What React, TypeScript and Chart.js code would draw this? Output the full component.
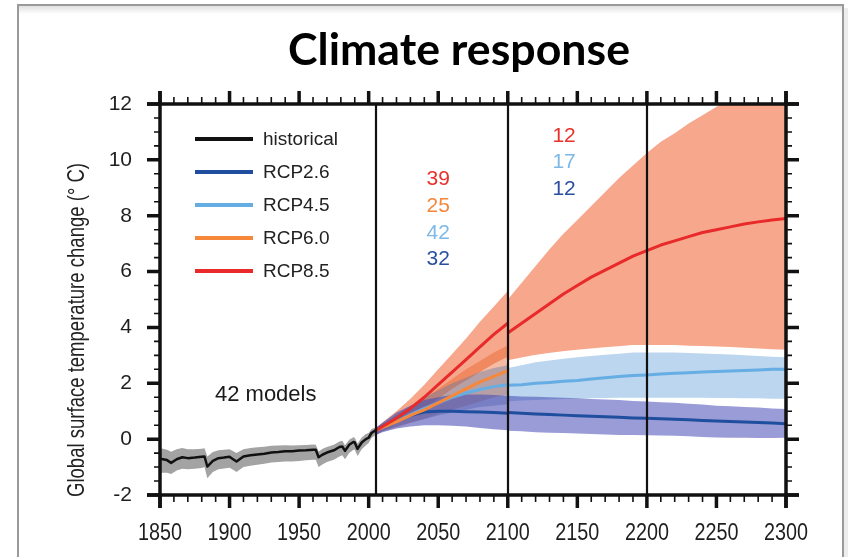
import React, { useEffect, useRef } from 'react';
import { Chart, registerables } from 'chart.js';

Chart.register(...registerables);

// ---------- data ----------
const histYears = [1850, 1855, 1858, 1862, 1866, 1870, 1875, 1880, 1882, 1884, 1888, 1892, 1896, 1900, 1902, 1905, 1910, 1915, 1920, 1925, 1930, 1935, 1940, 1945, 1950, 1955, 1960, 1962, 1964, 1967, 1970, 1975, 1979, 1981, 1983, 1986, 1989, 1990, 1992, 1995, 1998, 2000, 2002, 2005];
const histMean = [-0.70, -0.75, -0.85, -0.72, -0.65, -0.68, -0.66, -0.63, -0.62, -0.98, -0.78, -0.68, -0.66, -0.63, -0.70, -0.80, -0.62, -0.58, -0.55, -0.52, -0.48, -0.46, -0.43, -0.43, -0.41, -0.40, -0.38, -0.38, -0.65, -0.55, -0.48, -0.40, -0.28, -0.26, -0.42, -0.20, -0.10, -0.12, -0.35, -0.12, 0.0, 0.05, 0.22, 0.32];
const histHi = [-0.32, -0.38, -0.45, -0.36, -0.32, -0.36, -0.36, -0.34, -0.33, -0.62, -0.46, -0.40, -0.38, -0.36, -0.42, -0.50, -0.36, -0.32, -0.29, -0.27, -0.24, -0.23, -0.22, -0.23, -0.22, -0.21, -0.19, -0.20, -0.44, -0.34, -0.28, -0.20, -0.08, -0.06, -0.22, -0.02, 0.07, 0.05, -0.16, 0.06, 0.18, 0.22, 0.36, 0.42];
const histLo = [-1.20, -1.20, -1.25, -1.12, -1.06, -1.08, -1.06, -1.03, -1.00, -1.40, -1.18, -1.08, -1.05, -1.02, -1.08, -1.18, -1.00, -0.95, -0.92, -0.88, -0.84, -0.82, -0.80, -0.80, -0.78, -0.76, -0.74, -0.74, -1.00, -0.90, -0.82, -0.74, -0.62, -0.58, -0.72, -0.50, -0.38, -0.38, -0.60, -0.36, -0.22, -0.14, 0.04, 0.16];

// 2005-2100
const p1Years = [2005, 2010, 2020, 2030, 2040, 2050, 2060, 2070, 2080, 2090, 2100];
const rcp85Mean1 = [0.3, 0.45, 0.75, 1.1, 1.5, 1.95, 2.4, 2.85, 3.3, 3.75, 4.15];
const rcp85Hi1 = [0.4, 0.6, 1.0, 1.45, 1.95, 2.5, 3.05, 3.6, 4.2, 4.75, 5.3];
const rcp85Lo1 = [0.15, 0.3, 0.55, 0.8, 1.1, 1.45, 1.8, 2.1, 2.4, 2.7, 2.95];
const rcp60Mean1 = [0.3, 0.42, 0.62, 0.85, 1.05, 1.3, 1.55, 1.8, 2.05, 2.25, 2.45];
const rcp60Hi1 = [0.4, 0.55, 0.85, 1.15, 1.45, 1.8, 2.15, 2.5, 2.8, 3.1, 3.35];
const rcp60Lo1 = [0.15, 0.28, 0.42, 0.58, 0.72, 0.9, 1.05, 1.2, 1.35, 1.5, 1.6];
const rcp45Mean1 = [0.3, 0.42, 0.65, 0.88, 1.1, 1.3, 1.5, 1.65, 1.78, 1.88, 1.95];
const rcp45Hi1 = [0.4, 0.55, 0.88, 1.2, 1.5, 1.75, 2.0, 2.2, 2.4, 2.55, 2.65];
const rcp45Lo1 = [0.15, 0.28, 0.45, 0.6, 0.72, 0.85, 0.95, 1.05, 1.15, 1.2, 1.25];
const rcp26Mean1 = [0.3, 0.45, 0.68, 0.85, 0.97, 1.0, 1.0, 0.98, 0.97, 0.95, 0.93];
const rcp26Hi1 = [0.4, 0.6, 0.95, 1.2, 1.4, 1.5, 1.58, 1.6, 1.6, 1.58, 1.55];
const rcp26Lo1 = [0.15, 0.25, 0.38, 0.45, 0.5, 0.5, 0.48, 0.45, 0.4, 0.35, 0.32];

// 2100-2300
const p2Years = [2100, 2110, 2120, 2130, 2140, 2150, 2160, 2170, 2180, 2190, 2200, 2210, 2220, 2230, 2240, 2250, 2260, 2270, 2280, 2290, 2300];
const rcp85Mean2 = [3.8, 4.15, 4.5, 4.85, 5.2, 5.5, 5.8, 6.05, 6.3, 6.55, 6.75, 6.95, 7.1, 7.25, 7.4, 7.5, 7.6, 7.7, 7.78, 7.85, 7.9];
const rcp85Hi2 = [5.0, 5.6, 6.2, 6.8, 7.35, 7.85, 8.35, 8.85, 9.35, 9.8, 10.25, 10.65, 10.95, 11.3, 11.6, 11.9, 12.15, 12.4, 12.6, 12.8, 13.0];
const rcp85Lo2 = [2.7, 2.75, 2.8, 2.85, 2.9, 2.95, 3.0, 3.0, 3.0, 3.0, 3.0, 3.0, 3.0, 3.0, 3.0, 3.0, 2.95, 2.95, 2.95, 2.9, 2.9];
const rcp45Mean2 = [1.93, 1.95, 2.0, 2.03, 2.07, 2.1, 2.15, 2.2, 2.24, 2.28, 2.3, 2.33, 2.36, 2.38, 2.4, 2.42, 2.44, 2.46, 2.48, 2.5, 2.5];
const rcp45Hi2 = [2.55, 2.65, 2.75, 2.82, 2.88, 2.93, 2.98, 3.02, 3.06, 3.1, 3.1, 3.1, 3.1, 3.08, 3.07, 3.05, 3.03, 3.0, 2.98, 2.95, 2.93];
const rcp45Lo2 = [1.35, 1.38, 1.4, 1.42, 1.44, 1.45, 1.46, 1.47, 1.48, 1.48, 1.48, 1.48, 1.48, 1.48, 1.48, 1.47, 1.47, 1.46, 1.46, 1.45, 1.45];
const rcp26Mean2 = [0.95, 0.93, 0.9, 0.88, 0.86, 0.84, 0.82, 0.8, 0.78, 0.76, 0.75, 0.73, 0.71, 0.69, 0.67, 0.65, 0.63, 0.61, 0.6, 0.58, 0.55];
const rcp26Hi2 = [1.55, 1.53, 1.52, 1.5, 1.48, 1.46, 1.44, 1.42, 1.4, 1.37, 1.35, 1.32, 1.3, 1.27, 1.24, 1.2, 1.18, 1.15, 1.13, 1.1, 1.08];
const rcp26Lo2 = [0.3, 0.28, 0.25, 0.23, 0.22, 0.2, 0.18, 0.17, 0.15, 0.15, 0.14, 0.13, 0.12, 0.1, 0.08, 0.06, 0.05, 0.05, 0.04, 0.04, 0.05];

// period divider years
const periodLines = [2005, 2100, 2200];

// legend
const legendNames = ['historical', 'RCP2.6', 'RCP4.5', 'RCP6.0', 'RCP8.5'];
const legendColors = ['#111111', '#1f4e9e', '#65ade2', '#f7883a', '#e82a2a'];

// model counts
const countsP1 = ['39', '25', '42', '32'];
const countsP1Colors = ['#e8312b', '#f5873d', '#7db8e6', '#2a4f9f'];
const countsP2 = ['12', '17', '12'];
const countsP2Colors = ['#e8312b', '#7db8e6', '#2a4f9f'];
const histLabel = '42 models';

const titleText = 'Climate response';
const yTitle = 'Global surface temperature change (\u00b0 C)';

const SANS = '"Liberation Sans", Arial, sans-serif';

function pts(xs: number[], ys: number[]) {
  return xs.map((x, i) => ({ x, y: ys[i] }));
}

function fitText(ctx: CanvasRenderingContext2D, text: string, cx: number, cy: number, width: number) {
  const w = ctx.measureText(text).width;
  ctx.save();
  ctx.translate(cx, cy);
  ctx.scale(width / w, 1);
  ctx.textAlign = 'center';
  ctx.fillText(text, 0, 0);
  ctx.restore();
}

const decorPlugin = {
  id: 'decor',
  beforeDraw(chart: any) {
    const { ctx } = chart;
    ctx.save();
    ctx.fillStyle = '#ffffff';
    ctx.fillRect(0, 0, chart.width, chart.height);
    // outer frame
    const g = ctx.createLinearGradient(0, 6, 0, 14);
    g.addColorStop(0, 'rgba(0,0,0,0.12)');
    g.addColorStop(1, 'rgba(0,0,0,0)');
    ctx.fillStyle = g;
    ctx.fillRect(19, 6, 824, 8);
    ctx.fillStyle = 'rgba(0,0,0,0.07)';
    ctx.fillRect(844, 8, 4, 560);
    ctx.strokeStyle = '#9a9a9a';
    ctx.lineWidth = 2;
    ctx.strokeRect(18, 5, 825, 600);
    // title
    ctx.fillStyle = '#000';
    ctx.font = 'bold 43px Lato, "Open Sans", sans-serif';
    ctx.textBaseline = 'alphabetic';
    fitText(ctx, titleText, 459, 65, 342);
    // y title (rotated, condensed to its length in the figure)
    ctx.save();
    ctx.translate(77, 330);
    ctx.rotate(-Math.PI / 2);
    ctx.font = '24px ' + SANS;
    ctx.fillStyle = '#222';
    ctx.textBaseline = 'middle';
    fitText(ctx, yTitle, 0, 0, 334);
    ctx.restore();
    ctx.restore();
  },
  afterDatasetsDraw(chart: any) {
    const { ctx, chartArea: a, scales } = chart;
    const xs = scales.x;
    const ys = scales.y;
    ctx.save();
    ctx.strokeStyle = '#111';
    ctx.lineCap = 'butt';
    // period dividers
    ctx.lineWidth = 2.2;
    periodLines.forEach((yr) => {
      const px = Math.round(xs.getPixelForValue(yr));
      ctx.beginPath();
      ctx.moveTo(px, a.top);
      ctx.lineTo(px, a.bottom);
      ctx.stroke();
    });
    // axes box (extended at corners)
    const ext = 13;
    ctx.lineWidth = 3.5;
    ctx.beginPath();
    ctx.moveTo(a.left - ext, a.bottom); ctx.lineTo(a.right + ext, a.bottom);
    ctx.moveTo(a.left - ext, a.top); ctx.lineTo(a.right + ext, a.top);
    ctx.moveTo(a.left, a.top - ext); ctx.lineTo(a.left, a.bottom + ext);
    ctx.moveTo(a.right, a.top - ext); ctx.lineTo(a.right, a.bottom + ext);
    ctx.stroke();
    // x ticks
    for (let v = xs.min; v <= xs.max; v += 10) {
      const px = xs.getPixelForValue(v);
      const major = v % 50 === 0;
      const len = major ? 13 : 7;
      ctx.lineWidth = major ? 3.5 : 1.6;
      ctx.beginPath();
      ctx.moveTo(px, a.bottom); ctx.lineTo(px, a.bottom + len);
      ctx.moveTo(px, a.top); ctx.lineTo(px, a.top - len);
      ctx.stroke();
    }
    // y ticks
    for (let v = ys.min; v <= ys.max + 1e-9; v += 0.5) {
      const py = ys.getPixelForValue(v);
      const major = Math.abs(v % 2) < 1e-9;
      const len = major ? 13 : 6;
      ctx.lineWidth = major ? 3.5 : 1.6;
      ctx.beginPath();
      ctx.moveTo(a.left, py); ctx.lineTo(a.left - len, py);
      ctx.moveTo(a.right, py); ctx.lineTo(a.right + len, py);
      ctx.stroke();
    }
    // x tick labels (condensed, from the scale's own ticks)
    ctx.fillStyle = '#1e1e1e';
    ctx.font = '23px ' + SANS;
    ctx.textBaseline = 'middle';
    xs.ticks.forEach((t: any) => {
      fitText(ctx, String(t.value), xs.getPixelForValue(t.value), a.bottom + 39, 44);
    });
    // legend
    ctx.textAlign = 'left';
    ctx.textBaseline = 'middle';
    ctx.font = '19px ' + SANS;
    legendNames.forEach((name, i) => {
      const ly = a.top + 35 + i * 33;
      ctx.strokeStyle = legendColors[i];
      ctx.lineWidth = 4;
      ctx.beginPath();
      ctx.moveTo(a.left + 35, ly);
      ctx.lineTo(a.left + 93, ly);
      ctx.stroke();
      ctx.fillStyle = '#222';
      ctx.fillText(name, a.left + 103, ly + 1);
    });
    // annotations
    ctx.textAlign = 'center';
    ctx.font = '22px ' + SANS;
    ctx.fillStyle = '#1a1a1a';
    ctx.fillText(histLabel, xs.getPixelForValue(1926), ys.getPixelForValue(1.57));
    ctx.font = '21px ' + SANS;
    countsP1.forEach((t, i) => {
      ctx.fillStyle = countsP1Colors[i];
      ctx.fillText(t, xs.getPixelForValue(2050), ys.getPixelForValue(9.29 - i * 0.95));
    });
    countsP2.forEach((t, i) => {
      ctx.fillStyle = countsP2Colors[i];
      ctx.fillText(t, xs.getPixelForValue(2140.5), ys.getPixelForValue(10.86 - i * 0.95));
    });
    ctx.restore();
  },
};

export default function App() {
  const ref = useRef<HTMLCanvasElement>(null);
  useEffect(() => {
    document.body.style.margin = '0';
    const canvas = ref.current!;
    const ds: any[] = [];
    const edge = (xs: number[], ys: number[], extra: any = {}) => {
      ds.push({ data: pts(xs, ys), borderColor: 'transparent', borderWidth: 0, fill: false, ...extra });
      return ds.length - 1;
    };
    const band = (xs: number[], ys: number[], target: number, color: string) => {
      ds.push({ data: pts(xs, ys), borderColor: 'transparent', borderWidth: 0, fill: { target }, backgroundColor: color });
      return ds.length - 1;
    };
    const line = (xs: number[], ys: number[], color: string, w = 3) => {
      ds.push({ data: pts(xs, ys), borderColor: color, borderWidth: w, fill: false });
    };

    // bands (bottom to top)
    band(histYears, histLo, edge(histYears, histHi), '#a3a3a3');
    band(p1Years, rcp85Lo1, edge(p1Years, rcp85Hi1), '#f6a78c');
    band(p2Years, rcp85Lo2, edge(p2Years, rcp85Hi2), '#f6a78c');
    band(p1Years, rcp60Lo1, edge(p1Years, rcp60Hi1), 'rgba(230,95,35,0.42)');
    band(p1Years, rcp45Lo1, edge(p1Years, rcp45Hi1), 'rgba(95,120,170,0.42)');
    const h45 = edge(p2Years, rcp45Hi2, { borderColor: '#ffffff', borderWidth: 15 });
    edge(p2Years, rcp45Lo2, { borderColor: '#ffffff', borderWidth: 15 });
    band(p2Years, rcp45Lo2, h45, '#bbd6ee');
    band(p1Years, rcp26Lo1, edge(p1Years, rcp26Hi1), 'rgba(70,75,180,0.58)');
    band(p2Years, rcp26Lo2, edge(p2Years, rcp26Hi2), 'rgba(70,75,180,0.55)');
    // mean lines
    line(histYears, histMean, '#111111', 2.5);
    line(p1Years, rcp26Mean1, '#1f4e9e');
    line(p2Years, rcp26Mean2, '#1f4e9e');
    line(p1Years, rcp45Mean1, '#65ade2');
    line(p2Years, rcp45Mean2, '#65ade2');
    line(p1Years, rcp60Mean1, '#f7883a');
    line(p1Years, rcp85Mean1, '#e82a2a');
    line(p2Years, rcp85Mean2, '#e82a2a');

    const n = ds.length;
    ds.forEach((d, i) => {
      d.order = n - i;
      d.pointRadius = 0;
      d.tension = 0;
      d.clip = 0;
      d.borderJoinStyle = 'round';
    });

    const chart = new Chart(canvas, {
      type: 'line',
      data: { datasets: ds },
      plugins: [decorPlugin],
      options: {
        animation: false,
        responsive: false,
        devicePixelRatio: 1,
        layout: { padding: { top: 104, right: 62, bottom: 0, left: 0 } },
        plugins: { legend: { display: false }, tooltip: { enabled: false }, title: { display: false } },
        scales: {
          x: {
            type: 'linear',
            min: 1850,
            max: 2300,
            grid: { display: false, drawTicks: false },
            border: { display: false },
            ticks: {
              stepSize: 50,
              display: false,
              callback: (v: any) => String(v),
              maxRotation: 0,
            },
            afterFit: (s: any) => { s.height = 62; },
          },
          y: {
            type: 'linear',
            min: -2,
            max: 12,
            grid: { display: false, drawTicks: false },
            border: { display: false },
            ticks: {
              stepSize: 2,
              padding: 28,
              color: '#1e1e1e',
              font: { family: SANS, size: 21 },
              callback: (v: any) => String(v),
            },
            afterFit: (s: any) => { s.width = 160; },
          },
        },
      } as any,
    });
    return () => chart.destroy();
  }, []);
  return (
    <div style={{ position: 'absolute', left: 0, top: 0, width: 848, height: 557 }}>
      <canvas ref={ref} width={848} height={557} style={{ width: 848, height: 557, display: 'block' }} />
    </div>
  );
}
